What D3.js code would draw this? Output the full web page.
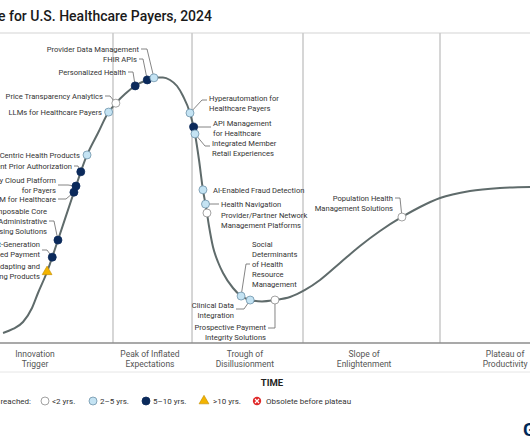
<!DOCTYPE html>
<html><head><meta charset="utf-8">
<script src="https://cdn.jsdelivr.net/npm/d3@7"></script>
<style>
html,body{margin:0;padding:0;background:#fff;overflow:hidden}
svg{display:block;font-family:Roboto,"Liberation Sans",sans-serif}
</style>
</head><body>
<svg id="chart" width="530" height="442"></svg>
<script>
// ---------- DATA ----------
const titleText = "Hype Cycle for U.S. Healthcare Payers, 2024";
const curveTime = [0.57,2.45,4.34,6.04,7.17,8.87,10.94,13.96,16.42,18.49,20.38,21.89,23.58,25.47,27.74,29.62,30.75,32.08,33.40,34.53,35.85,36.79,37.55,38.30,38.87,39.43,40.19,41.13,42.08,43.96,45.47,47.17,49.43,51.89,54.72,57.55,60.38,64.15,67.92,71.70,75.85,79.25,83.02,88.68,94.34,100];
const curveExpect = [3.23,4.52,6.77,11.29,16.13,22.90,33.23,48.71,60.65,67.74,74.19,77.42,80.32,82.90,84.84,85.65,85.65,84.84,82.90,79.68,74.19,67.42,59.03,49.35,43.87,37.74,30.97,26.13,22.58,17.74,15.16,13.87,13.39,13.87,14.84,17.10,20.32,25.81,31.29,36.13,40.65,43.87,46.77,49.03,50.00,50.32];

const phaseNames = [["Innovation","Trigger"],["Peak of Inflated","Expectations"],["Trough of","Disillusionment"],["Slope of","Enlightenment"],["Plateau of","Productivity"]];
const phaseBounds = [21.32, 36.23, 57.17, 83.02];
const phaseLabelTime = [6.6, 28.3, 46.2, 68.7, 95.3];

const techNames = [
  "Self-Adapting and Self-Learning Products",
  "Next-Generation Value-Based Payment",
  "Composable Core Administrative Processing Solutions",
  "CIAM for Healthcare",
  "Industry Cloud Platform for Payers",
  "Intelligent Prior Authorization",
  "Consumer-Centric Health Products",
  "LLMs for Healthcare Payers",
  "Price Transparency Analytics",
  "Personalized Health",
  "FHIR APIs",
  "Provider Data Management",
  "Hyperautomation for Healthcare Payers",
  "API Management for Healthcare",
  "Integrated Member Retail Experiences",
  "AI-Enabled Fraud Detection",
  "Health Navigation",
  "Provider/Partner Network Management Platforms",
  "Social Determinants of Health Resource Management",
  "Clinical Data Integration",
  "Prospective Payment Integrity Solutions",
  "Population Health Management Solutions"
];
const techTime   = [8.87,9.81,10.94,13.96,14.34,15.28,16.42,20.38,21.89,25.47,27.74,29.06,35.85,36.42,36.79,38.30,38.68,39.25,45.47,47.17,51.89,75.85];
const techExpect = [22.90,27.74,33.23,48.71,50.65,55.16,60.65,74.52,77.42,82.90,84.84,85.16,74.19,69.68,67.42,49.35,44.84,41.94,15.16,13.87,13.87,40.65];
const techPlateau = [">10","5-10","5-10","5-10","5-10","5-10","2-5","2-5","<2","5-10","5-10","2-5","2-5","5-10","2-5","2-5","2-5","<2","2-5","2-5","<2","<2"];

const legendTitle = "Plateau will be reached:";
const legendKeys = ["<2","2-5","5-10",">10","obsolete"];
const legendLabels = ["<2 yrs.","2–5 yrs.","5–10 yrs.",">10 yrs.","Obsolete before plateau"];

// ---------- LAYOUT (label placement, pixels) ----------
const labelLayout = [
  {lines:["Self-Adapting and","Self-Learning Products"], x:40, y:266, a:"end", leader:null},
  {lines:["Next-Generation","Value-Based Payment"], x:40, y:244, a:"end", leader:[[42,250],[47,250]]},
  {lines:["Composable Core","Administrative","Processing Solutions"], x:47, y:211, a:"end", leader:[[49,221],[54,221]]},
  {lines:["CIAM for Healthcare"], x:56, y:199, a:"end", leader:[[58,199],[66,199]]},
  {lines:["Industry Cloud Platform","for Payers"], x:56, y:180, a:"end", leader:[[58,185],[68,185]]},
  {lines:["Intelligent Prior Authorization"], x:72, y:166, a:"end", leader:[[74,166],[78,166]]},
  {lines:["Consumer-Centric Health Products"], x:80, y:155, a:"end", leader:null},
  {lines:["LLMs for Healthcare Payers"], x:102, y:112, a:"end", leader:null},
  {lines:["Price Transparency Analytics"], x:103, y:96, a:"end", leader:[[105,96],[110,96]]},
  {lines:["Personalized Health"], x:126, y:72, a:"end", leader:[[128,72],[133,72]]},
  {lines:["FHIR APIs"], x:137, y:59, a:"end", leader:[[139,59],[143,59]]},
  {lines:["Provider Data Management"], x:139, y:49, a:"end", leader:[[141,49],[147,49]]},
  {lines:["Hyperautomation for","Healthcare Payers"], x:209, y:98, a:"start", leader:[[207,100],[202,100]]},
  {lines:["API Management","for Healthcare"], x:213, y:123, a:"start", leader:[[211,127],[200,127]]},
  {lines:["Integrated Member","Retail Experiences"], x:212, y:143, a:"start", leader:[[210,146],[205,146]]},
  {lines:["AI-Enabled Fraud Detection"], x:213, y:190, a:"start", leader:null},
  {lines:["Health Navigation"], x:221, y:204, a:"start", leader:[[219,204],[212,204]]},
  {lines:["Provider/Partner Network","Management Platforms"], x:221, y:215, a:"start", leader:null},
  {lines:["Social","Determinants","of Health","Resource","Management"], x:252, y:244, a:"start", leader:[[250,264],[246,264]]},
  {lines:["Clinical Data","Integration"], x:234, y:305, a:"end", leader:[[236,309],[244,309]]},
  {lines:["Prospective Payment","Integrity Solutions"], x:266, y:327, a:"end", leader:[[268,328],[275,328]]},
  {lines:["Population Health","Management Solutions"], x:393, y:198, a:"end", leader:[[395,198],[400,198]]}
];

// ---------- DRAW ----------
const W = 530, H = 442;
const svg = d3.select("#chart");
const x = d3.scaleLinear().domain([0,100]).range([0,530]);
const y = d3.scaleLinear().domain([0,100]).range([343,33]);
const plateauStyle = {
  "<2":  {fill:"#ffffff", stroke:"#8a8a8a"},
  "2-5": {fill:"#c4e3f3", stroke:"#6f93aa"},
  "5-10":{fill:"#0b2a5b", stroke:"#0b2a5b"},
  ">10": {fill:"#f3b400", stroke:"#c18c00"}
};

// title
svg.append("text").attr("x",212).attr("y",21).attr("text-anchor","end")
  .attr("font-size",14).attr("font-weight",500).attr("fill","#1a1a1a").text(titleText);

// frame lines
svg.append("line").attr("x1",0).attr("x2",W).attr("y1",y(100)).attr("y2",y(100))
  .attr("stroke","#e2e2e2").attr("stroke-width",1.5);
svg.selectAll("line.phase").data(phaseBounds).join("line").attr("class","phase")
  .attr("x1",d=>x(d)).attr("x2",d=>x(d)).attr("y1",y(100)).attr("y2",y(0))
  .attr("stroke","#c9c9c9").attr("stroke-width",1.5);
svg.append("line").attr("x1",0).attr("x2",W).attr("y1",y(0)).attr("y2",y(0))
  .attr("stroke","#8d8d8d").attr("stroke-width",1.5);
svg.append("line").attr("x1",0).attr("x2",W).attr("y1",372).attr("y2",372)
  .attr("stroke","#e6e6e6").attr("stroke-width",1);

// phase labels
const pl = svg.selectAll("text.phase").data(phaseNames).join("text").attr("class","phase")
  .attr("x",(d,i)=>x(phaseLabelTime[i])).attr("y",357).attr("text-anchor","middle")
  .attr("font-size",8.5).attr("fill","#555");
pl.selectAll("tspan").data(d=>d).join("tspan")
  .attr("x",function(){return d3.select(this.parentNode).attr("x");})
  .attr("dy",(d,i)=>i?10:0).text(d=>d);

// TIME
svg.append("text").attr("x",272).attr("y",386).attr("text-anchor","middle")
  .attr("font-size",9.5).attr("font-weight",700).attr("fill","#222").text("TIME");

// curve
const curvePts = curveTime.map((t,i)=>[x(t), y(curveExpect[i])]);
const path = svg.append("path").attr("d", d3.line().curve(d3.curveMonotoneX)(curvePts))
  .attr("fill","none").attr("stroke","#5f6b6b").attr("stroke-width",2);

// snap tech points onto curve
const node = path.node(), L = node.getTotalLength();
const samples = d3.range(0, L, 0.5).map(l => node.getPointAtLength(l));
const techPts = techTime.map((t,i)=>{
  const px = x(t), py = y(techExpect[i]);
  let best = samples[0], bd = Infinity;
  for (const s of samples){ const d=(s.x-px)**2+(s.y-py)**2; if(d<bd){bd=d;best=s;} }
  return [best.x, best.y];
});

// leaders
const leaderG = svg.append("g");
labelLayout.forEach((lay,i)=>{
  if(!lay.leader) return;
  const pts = lay.leader.concat([techPts[i]]);
  leaderG.append("path").attr("d", d3.line()(pts))
    .attr("fill","none").attr("stroke","#666").attr("stroke-width",0.8);
});

// labels
labelLayout.forEach((lay,i)=>{
  const t = svg.append("text").attr("x",lay.x).attr("y",lay.y).attr("dy","0.35em")
    .attr("text-anchor",lay.a).attr("font-size",7.6).attr("fill","#333");
  lay.lines.forEach((ln,j)=>{
    t.append("tspan").attr("x",lay.x).attr("dy", j? 10 : "0.35em").text(ln);
  });
});

// markers
function drawMarker(g, key, cx, cy){
  if(key === ">10"){
    g.append("path").attr("d", d3.symbol(d3.symbolTriangle).size(42)())
      .attr("transform",`translate(${cx},${cy})`)
      .attr("fill",plateauStyle[key].fill).attr("stroke",plateauStyle[key].stroke).attr("stroke-width",0.6);
  } else if(key === "obsolete"){
    g.append("circle").attr("cx",cx).attr("cy",cy).attr("r",4.2).attr("fill","#e02a2a");
    g.append("path").attr("d",`M${cx-2},${cy-2}L${cx+2},${cy+2}M${cx+2},${cy-2}L${cx-2},${cy+2}`)
      .attr("stroke","#fff").attr("stroke-width",1.2);
  } else {
    g.append("circle").attr("cx",cx).attr("cy",cy).attr("r",4)
      .attr("fill",plateauStyle[key].fill).attr("stroke",plateauStyle[key].stroke).attr("stroke-width",0.8);
  }
}
const mg = svg.append("g");
techPts.forEach((p,i)=>drawMarker(mg, techPlateau[i], p[0], p[1]));

// legend
const legY = 401;
const legSymX = [45, 93, 146, 204, 257];
svg.append("text").attr("x",31).attr("y",legY).attr("dy","0.35em").attr("text-anchor","end")
  .attr("font-size",8).attr("fill","#333").text(legendTitle);
legendKeys.forEach((k,i)=>{
  drawMarker(svg, k, legSymX[i], legY);
  svg.append("text").attr("x",legSymX[i]+ (k==="obsolete"||k===">10"?9:7)).attr("y",legY).attr("dy","0.35em")
    .attr("font-size",8).attr("fill","#333").text(legendLabels[i]);
});

// logo
svg.append("text").attr("x",523).attr("y",436).attr("font-size",18).attr("font-weight",700)
  .attr("fill","#002856").text("Gartner");
</script>
</body></html>
